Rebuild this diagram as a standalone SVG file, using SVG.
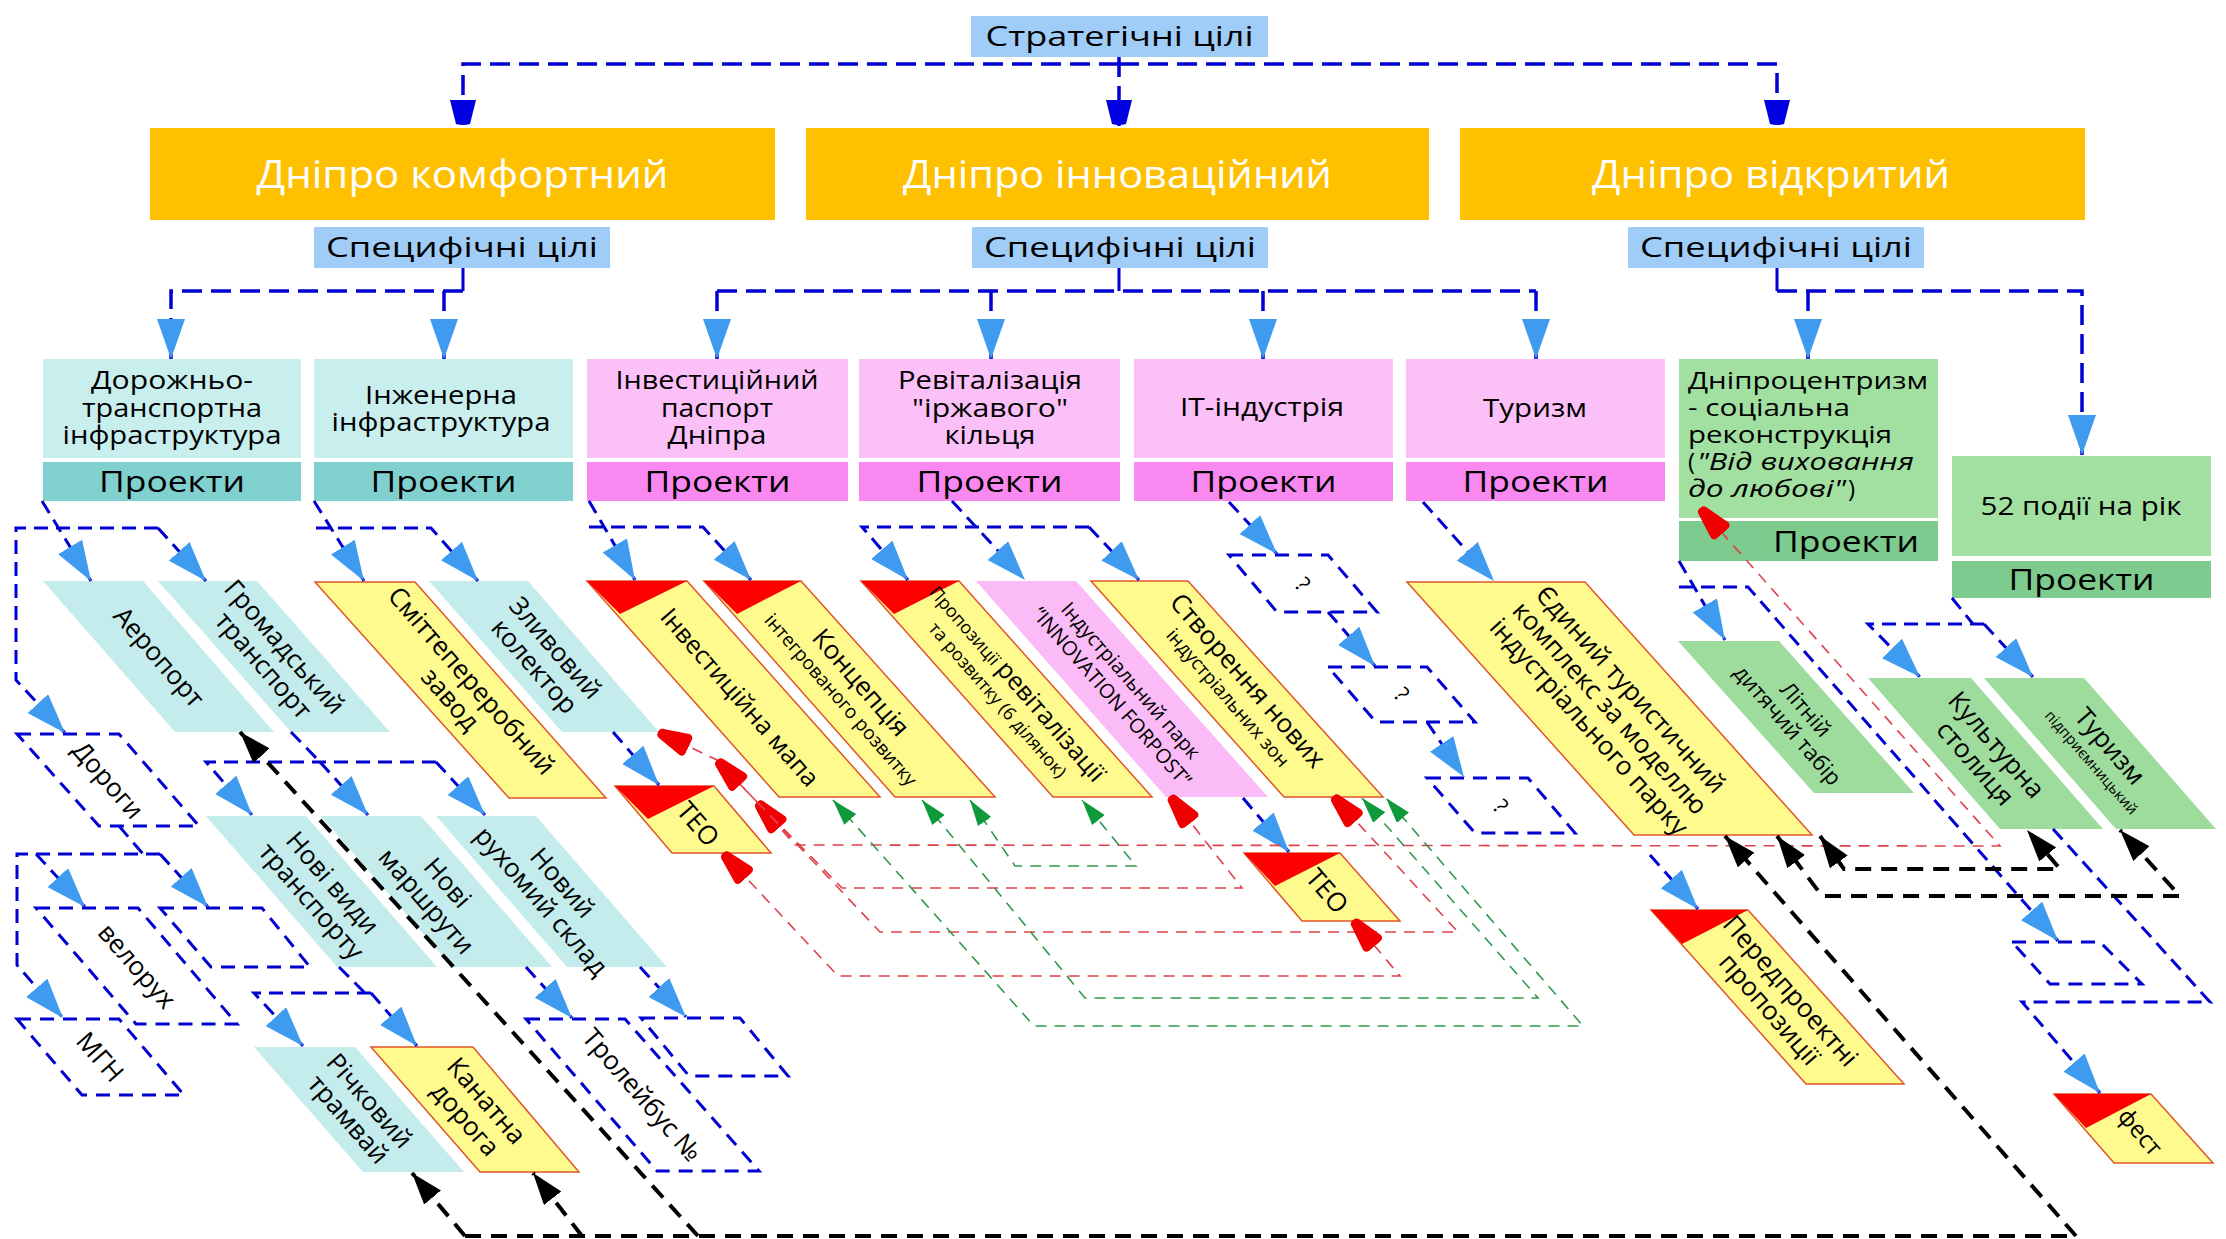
<svg xmlns="http://www.w3.org/2000/svg" width="2226" height="1239" viewBox="0 0 2226 1239">
<style>
.t{font-family:"Open Sans","Noto Sans","DejaVu Sans",sans-serif;fill:#000}
.m{text-anchor:middle}
.w{fill:#fff}
.sb{fill:#A0CDF8}
.ob{fill:#FFC000}
.cc{fill:#C8EEEE}.cp{fill:#80D0CF}
.pc{fill:#FBC0F7}.pp{fill:#F988F0}
.gc{fill:#A2E0A2}.gp{fill:#7DCB8E}
.cb{fill:#C4ECEC}
.yb{fill:#FFFA8E;stroke:#E0552A;stroke-width:1.5}
.rt{fill:#FF0000}
.pb{fill:#FBBBF6}
.gb{fill:#9EDC9E}
.db{fill:none;stroke:#0000D0;stroke-width:3;stroke-dasharray:14 9}
.bl{fill:none;stroke:#0000D0;stroke-width:3;stroke-dasharray:14 8}
.blt{fill:none;stroke:#0000D0;stroke-width:3.5;stroke-dasharray:20 9}
.bk{fill:none;stroke:#000;stroke-width:4;stroke-dasharray:16 10}
.rd{fill:none;stroke:#E0404A;stroke-width:1.6;stroke-dasharray:11 8}
.gr{fill:none;stroke:#2E9A4A;stroke-width:1.6;stroke-dasharray:11 8}
</style>
<defs>
<marker id="mLB" viewBox="0 0 40 28" refX="40" refY="14" markerWidth="40" markerHeight="28" markerUnits="userSpaceOnUse" orient="auto"><path d="M0,0 L40,14 L0,28 Z" fill="#3F9BF0"/></marker>
<marker id="mDB" viewBox="0 0 26 28" refX="26" refY="14" markerWidth="26" markerHeight="28" markerUnits="userSpaceOnUse" orient="auto"><path d="M0,1 L24,7 Q26,14 24,21 L0,27 Z" fill="#0000E0"/></marker>
<marker id="mBK" viewBox="0 0 32 22" refX="32" refY="11" markerWidth="32" markerHeight="22" markerUnits="userSpaceOnUse" orient="auto-start-reverse"><path d="M0,0 L32,11 L0,22 Z" fill="#000"/></marker>
<marker id="mGR" viewBox="0 0 26 16" refX="26" refY="8" markerWidth="26" markerHeight="16" markerUnits="userSpaceOnUse" orient="auto-start-reverse"><path d="M0,0 L26,8 L0,16 Z" fill="#0E9A3A"/></marker>
<marker id="mRK" viewBox="0 0 34 24" refX="34" refY="12" markerWidth="34" markerHeight="24" markerUnits="userSpaceOnUse" orient="auto-start-reverse"><path d="M34,12 C34,8 32,7 29,6.5 L5,0.5 C2,0 0,2 0,5 L0,19 C0,22 2,24 5,23.5 L29,17.5 C32,17 34,16 34,12 Z" fill="#F00000"/></marker>
</defs>
<rect width="2226" height="1239" fill="#fff"/>

<!-- top level -->
<g id="strat"><rect class="sb" x="971" y="16" width="297" height="41"/><text class="t m" x="1119.5" y="46" font-size="28" textLength="268" lengthAdjust="spacingAndGlyphs">Стратегічні цілі</text></g>
<g id="komf"><rect class="ob" x="150" y="128" width="625" height="92"/><text class="t m w" x="462.5" y="188" font-size="39" textLength="412" lengthAdjust="spacingAndGlyphs">Дніпро комфортний</text></g>
<g id="innov"><rect class="ob" x="806" y="128" width="623" height="92"/><text class="t m w" x="1117.5" y="188" font-size="39" textLength="429" lengthAdjust="spacingAndGlyphs">Дніпро інноваційний</text></g>
<g id="vidkr"><rect class="ob" x="1460" y="128" width="625" height="92"/><text class="t m w" x="1771" y="188" font-size="39" textLength="358" lengthAdjust="spacingAndGlyphs">Дніпро відкритий</text></g>
<g id="spec1"><rect class="sb" x="314" y="227" width="296" height="41"/><text class="t m" x="462" y="257" font-size="28" textLength="272" lengthAdjust="spacingAndGlyphs">Специфічні цілі</text></g>
<g id="spec2"><rect class="sb" x="972" y="227" width="296" height="41"/><text class="t m" x="1120" y="257" font-size="28" textLength="272" lengthAdjust="spacingAndGlyphs">Специфічні цілі</text></g>
<g id="spec3"><rect class="sb" x="1628" y="227" width="296" height="41"/><text class="t m" x="1776" y="257" font-size="28" textLength="272" lengthAdjust="spacingAndGlyphs">Специфічні цілі</text></g>

<!-- category boxes -->
<g id="cat1"><rect class="cc" x="43" y="359" width="258" height="99"/><rect class="cp" x="43" y="462" width="258" height="39"/>
<text class="t m" font-size="25"><tspan x="172" y="389" textLength="162" lengthAdjust="spacingAndGlyphs">Дорожньо-</tspan><tspan x="172" y="417" textLength="180" lengthAdjust="spacingAndGlyphs">транспортна</tspan><tspan x="172" y="444" textLength="219" lengthAdjust="spacingAndGlyphs">інфраструктура</tspan></text>
<text class="t m" x="172" y="492" font-size="30" textLength="146" lengthAdjust="spacingAndGlyphs">Проекти</text></g>
<g id="cat2"><rect class="cc" x="314" y="359" width="259" height="99"/><rect class="cp" x="314" y="462" width="259" height="39"/>
<text class="t m" font-size="25"><tspan x="441" y="404" textLength="152" lengthAdjust="spacingAndGlyphs">Інженерна</tspan><tspan x="441" y="431" textLength="219" lengthAdjust="spacingAndGlyphs">інфраструктура</tspan></text>
<text class="t m" x="443.5" y="492" font-size="30" textLength="146" lengthAdjust="spacingAndGlyphs">Проекти</text></g>
<g id="cat3"><rect class="pc" x="587" y="359" width="261" height="99"/><rect class="pp" x="587" y="462" width="261" height="39"/>
<text class="t m" font-size="25"><tspan x="717" y="389" textLength="203" lengthAdjust="spacingAndGlyphs">Інвестиційний</tspan><tspan x="717" y="417" textLength="112" lengthAdjust="spacingAndGlyphs">паспорт</tspan><tspan x="717" y="444" textLength="99" lengthAdjust="spacingAndGlyphs">Дніпра</tspan></text>
<text class="t m" x="717.5" y="492" font-size="30" textLength="146" lengthAdjust="spacingAndGlyphs">Проекти</text></g>
<g id="cat4"><rect class="pc" x="859" y="359" width="261" height="99"/><rect class="pp" x="859" y="462" width="261" height="39"/>
<text class="t m" font-size="25"><tspan x="990" y="389" textLength="184" lengthAdjust="spacingAndGlyphs">Ревіталізація</tspan><tspan x="990" y="417" textLength="156" lengthAdjust="spacingAndGlyphs">"іржавого"</tspan><tspan x="990" y="444" textLength="91" lengthAdjust="spacingAndGlyphs">кільця</tspan></text>
<text class="t m" x="989.5" y="492" font-size="30" textLength="146" lengthAdjust="spacingAndGlyphs">Проекти</text></g>
<g id="cat5"><rect class="pc" x="1134" y="359" width="259" height="99"/><rect class="pp" x="1134" y="462" width="259" height="39"/>
<text class="t m" x="1262" y="416" font-size="25" textLength="164" lengthAdjust="spacingAndGlyphs">IT-індустрія</text>
<text class="t m" x="1263.5" y="492" font-size="30" textLength="146" lengthAdjust="spacingAndGlyphs">Проекти</text></g>
<g id="cat6"><rect class="pc" x="1406" y="359" width="259" height="99"/><rect class="pp" x="1406" y="462" width="259" height="39"/>
<text class="t m" x="1535" y="417" font-size="25" textLength="104" lengthAdjust="spacingAndGlyphs">Туризм</text>
<text class="t m" x="1535.5" y="492" font-size="30" textLength="146" lengthAdjust="spacingAndGlyphs">Проекти</text></g>
<g id="cat7"><rect class="gc" x="1679" y="359" width="259" height="159"/><rect class="gp" x="1679" y="521" width="259" height="40"/>
<text class="t" font-size="24"><tspan x="1688" y="389" textLength="240" lengthAdjust="spacingAndGlyphs">Дніпроцентризм</tspan><tspan x="1688" y="416" textLength="162" lengthAdjust="spacingAndGlyphs">- соціальна</tspan><tspan x="1688" y="443" textLength="204" lengthAdjust="spacingAndGlyphs">реконструкція</tspan></text>
<text class="t" font-size="24" x="1688" y="470">(</text>
<text class="t" font-size="24" font-style="italic" x="1697" y="470" textLength="217" lengthAdjust="spacingAndGlyphs">"Від виховання</text>
<text class="t" font-size="24" font-style="italic" x="1688" y="497" textLength="158" lengthAdjust="spacingAndGlyphs">до любові"</text>
<text class="t" font-size="24" x="1848" y="497">)</text>
<text class="t m" x="1846" y="552" font-size="30" textLength="146" lengthAdjust="spacingAndGlyphs">Проекти</text></g>
<g id="cat8"><rect class="gc" x="1952" y="456" width="259" height="100"/><rect class="gp" x="1952" y="561" width="259" height="37"/>
<text class="t m" x="2081" y="515" font-size="26" textLength="201" lengthAdjust="spacingAndGlyphs">52 події на рік</text>
<text class="t m" x="2081.5" y="590" font-size="30" textLength="146" lengthAdjust="spacingAndGlyphs">Проекти</text></g>

<!-- project nodes -->
<g id="aeroport"><polygon class="cb" points="43,581 143,581 274,732 175,732"/><text class="t m" font-size="26" transform="translate(159,657) rotate(49)" y="9">Аеропорт</text></g>
<g id="gromtrans"><polygon class="cb" points="158,581 257,581 390,732 291,732"/><text class="t m" font-size="26" transform="translate(274,656) rotate(49)"><tspan x="0" y="-5">Громадський</tspan><tspan x="0" y="23">транспорт</tspan></text></g>
<g id="dorogy"><polygon class="db" points="17,734 119,734 199,826 99,826"/><text class="t m" font-size="26" transform="translate(108,780) rotate(49)" y="9">Дороги</text></g>
<g id="veloruh"><polygon class="db" points="36,908 138,908 237,1024 136,1024"/><text class="t m" font-size="26" transform="translate(137,966) rotate(49)" y="9">велорух</text></g>
<g id="empty1"><polygon class="db" points="160,908 262,908 310,967 211,967"/></g>
<g id="mgn"><polygon class="db" points="17,1019 119,1019 184,1095 82,1095"/><text class="t m" font-size="26" transform="translate(100,1057) rotate(49)" y="9">МГН</text></g>
<g id="noviv"><polygon class="cb" points="206,816 306,816 437,967 337,967"/><text class="t m" font-size="26" transform="translate(322,892) rotate(49)"><tspan x="0" y="-5">Нові види</tspan><tspan x="0" y="23">транспорту</tspan></text></g>
<g id="novim"><polygon class="cb" points="321,816 421,816 552,967 452,967"/><text class="t m" font-size="26" transform="translate(437,892) rotate(49)"><tspan x="0" y="-5">Нові</tspan><tspan x="0" y="23">маршрути</tspan></text></g>
<g id="novrs"><polygon class="cb" points="436,816 536,816 667,967 567,967"/><text class="t m" font-size="26" transform="translate(552,892) rotate(49)"><tspan x="0" y="-5">Новий</tspan><tspan x="0" y="23">рухомий склад</tspan></text></g>
<g id="richk"><polygon class="cb" points="254,1047 355,1047 464,1172 363,1172"/><text class="t m" font-size="26" transform="translate(359,1110) rotate(49)"><tspan x="0" y="-5">Річковий</tspan><tspan x="0" y="23">трамвай</tspan></text></g>
<g id="kanat"><polygon class="yb" points="371,1047 473,1047 579,1172 480,1172"/><text class="t m" font-size="26" transform="translate(476,1110) rotate(49)"><tspan x="0" y="-5">Канатна</tspan><tspan x="0" y="23">дорога</tspan></text></g>
<g id="troleib"><polygon class="db" points="526,1019 625,1019 759,1171 657,1171"/><text class="t m" font-size="26" transform="translate(642,1095) rotate(49)" y="9">Тролейбус №</text></g>
<g id="empty2"><polygon class="db" points="641,1018 740,1018 788,1076 689,1076"/></g>
<g id="smitt"><polygon class="yb" points="315,582 415,582 606,798 509,798"/><text class="t m" font-size="26" transform="translate(461,690) rotate(49)"><tspan x="0" y="-5">Сміттепереробний</tspan><tspan x="0" y="23">завод</tspan></text></g>
<g id="zlyv"><polygon class="cb" points="429,581 528,581 659,732 562,732"/><text class="t m" font-size="26" transform="translate(545,657) rotate(49)"><tspan x="0" y="-5">Зливовий</tspan><tspan x="0" y="23">колектор</tspan></text></g>
<g id="teo1"><polygon class="yb" points="615,786 714,786 771,853 672,853"/><polygon class="rt" points="615,786 714,786 648,819"/><text class="t m" font-size="26" transform="translate(698,824) rotate(49)" y="9">ТЕО</text></g>
<g id="invmap"><polygon class="yb" points="587,581 687,581 880,797 779,797"/><polygon class="rt" points="587,581 687,581 620,614"/><text class="t m" font-size="25" transform="translate(740,697) rotate(49)" y="9">Інвестиційна мапа</text></g>
<g id="konc"><polygon class="yb" points="704,581 801,581 995,797 895,797"/><polygon class="rt" points="704,581 801,581 737,614"/><text class="t m" transform="translate(851,691) rotate(49)"><tspan x="0" y="-4" font-size="26">Концепція</tspan><tspan x="0" y="20" font-size="19">інтегрованого розвитку</tspan></text></g>
<g id="propoz"><polygon class="yb" points="861,581 959,581 1152,797 1053,797"/><polygon class="rt" points="861,581 959,581 894,614"/><text class="t m" transform="translate(1008,691) rotate(49)"><tspan x="0" y="-4"><tspan font-size="18">Пропозиції </tspan><tspan font-size="25">ревіталізації</tspan></tspan><tspan x="0" y="20" font-size="18">та розвитку (6 ділянок)</tspan></text></g>
<g id="forpost"><polygon class="pb" points="976,581 1076,581 1268,797 1166,797"/><text class="t m" font-size="20" transform="translate(1121,689) rotate(49)"><tspan x="0" y="-6">Індустріальний парк</tspan><tspan x="0" y="19">“INNOVATION FORPOST”</tspan></text></g>
<g id="stvor"><polygon class="yb" points="1091,581 1188,581 1383,797 1284,797"/><text class="t m" transform="translate(1238,689) rotate(49)"><tspan x="0" y="-4" font-size="26">Створення нових</tspan><tspan x="0" y="20" font-size="19">індустріальних зон</tspan></text></g>
<g id="teo2"><polygon class="yb" points="1244,853 1340,853 1400,921 1302,921"/><polygon class="rt" points="1244,853 1340,853 1275,886"/><text class="t m" font-size="26" transform="translate(1327,891) rotate(49)" y="9">ТЕО</text></g>
<g id="q1"><polygon class="db" points="1229,555 1328,555 1377,612 1277,612"/><text class="t m" font-size="22" transform="translate(1303,584) rotate(49)" y="8">?</text></g>
<g id="q2"><polygon class="db" points="1328,667 1427,667 1475,722 1376,722"/><text class="t m" font-size="22" transform="translate(1402,694) rotate(49)" y="8">?</text></g>
<g id="q3"><polygon class="db" points="1427,778 1528,778 1575,833 1475,833"/><text class="t m" font-size="22" transform="translate(1501,806) rotate(49)" y="8">?</text></g>
<g id="yedyn"><polygon class="yb" points="1407,582 1585,582 1812,835 1634,835"/><text class="t m" font-size="26" transform="translate(1610,708) rotate(48)"><tspan x="0" y="-19">Єдиний туристичний</tspan><tspan x="0" y="9">комплекс за моделлю</tspan><tspan x="0" y="37">індустріального парку</tspan></text></g>
<g id="peredpr"><polygon class="yb" points="1651,910 1748,910 1904,1084 1806,1084"/><polygon class="rt" points="1651,910 1748,910 1682,944"/><text class="t m" font-size="26" transform="translate(1780,1000) rotate(49)"><tspan x="0" y="-5">Передпроектні</tspan><tspan x="0" y="23">пропозиції</tspan></text></g>
<g id="litniy"><polygon class="gb" points="1678,641 1779,641 1914,793 1814,793"/><text class="t m" font-size="22" transform="translate(1797,717) rotate(49)"><tspan x="0" y="-4">Літній</tspan><tspan x="0" y="20">дитячий табір</tspan></text></g>
<g id="kultur"><polygon class="gb" points="1868,678 1971,678 2103,829 2000,829"/><text class="t m" font-size="26" transform="translate(1986,754) rotate(49)"><tspan x="0" y="-5">Культурна</tspan><tspan x="0" y="23">столиця</tspan></text></g>
<g id="turpidpr"><polygon class="gb" points="1984,678 2084,678 2216,829 2116,829"/><text class="t m" transform="translate(2101,754) rotate(49)"><tspan x="0" y="-3" font-size="26">Туризм</tspan><tspan x="0" y="18" font-size="15">підприємницький</tspan></text></g>
<g id="empty3"><polygon class="db" points="2012,942 2100,942 2142,984 2050,984"/></g>
<g id="fest"><polygon class="yb" points="2054,1094 2151,1094 2213,1163 2114,1163"/><polygon class="rt" points="2054,1094 2151,1094 2086,1128"/><text class="t m" font-size="24" transform="translate(2140,1132) rotate(49)" y="8">фест</text></g>

<!-- connectors -->
<g id="connectors">
<path class="blt" d="M1119,64 L463,64 L463,126" marker-end="url(#mDB)"/>
<path class="blt" d="M1119,64 L1777,64 L1777,126" marker-end="url(#mDB)"/>
<path class="blt" d="M1119,57 L1119,126" marker-end="url(#mDB)"/>
<path d="M463,268 L463,291 M1119,268 L1119,291 M1777,268 L1777,291" stroke="#0000D0" stroke-width="3" fill="none"/>
<path class="blt" d="M463,291 L171,291 L171,359" marker-end="url(#mLB)"/>
<path class="blt" d="M444,291 L444,359" marker-end="url(#mLB)"/>
<path class="blt" d="M717,291 L1536,291"/>
<path class="blt" d="M717,291 L717,359" marker-end="url(#mLB)"/>
<path class="blt" d="M991,291 L991,359" marker-end="url(#mLB)"/>
<path class="blt" d="M1263,291 L1263,359" marker-end="url(#mLB)"/>
<path class="blt" d="M1536,291 L1536,359" marker-end="url(#mLB)"/>
<path class="blt" d="M1777,291 L2082,291 L2082,455" marker-end="url(#mLB)"/>
<path class="blt" d="M1808,291 L1808,359" marker-end="url(#mLB)"/>

<path class="bl" d="M42,501 L91,581" marker-end="url(#mLB)"/>
<path class="bl" d="M158,528 L16,528 L16,680 L65,733" marker-end="url(#mLB)"/>
<path class="bl" d="M158,528 L206,581" marker-end="url(#mLB)"/>
<path class="bl" d="M119,826 L143,854"/>
<path class="bl" d="M160,854 L17,854 L17,965 L63,1018" marker-end="url(#mLB)"/>
<path class="bl" d="M160,854 L208,907" marker-end="url(#mLB)"/>
<path class="bl" d="M36,854 L85,907" marker-end="url(#mLB)"/>
<path class="bl" d="M291,732 L320,762"/>
<path class="bl" d="M436,762 L206,762 L252,815" marker-end="url(#mLB)"/>
<path class="bl" d="M320,762 L368,815" marker-end="url(#mLB)"/>
<path class="bl" d="M436,762 L485,815" marker-end="url(#mLB)"/>
<path class="bl" d="M339,967 L365,993"/>
<path class="bl" d="M371,993 L254,993 L303,1046" marker-end="url(#mLB)"/>
<path class="bl" d="M371,993 L417,1046" marker-end="url(#mLB)"/>
<path class="bl" d="M526,967 L572,1018" marker-end="url(#mLB)"/>
<path class="bl" d="M640,967 L686,1017" marker-end="url(#mLB)"/>
<path class="bl" d="M314,501 L364,581" marker-end="url(#mLB)"/>
<path class="bl" d="M316,528 L431,528 L478,581" marker-end="url(#mLB)"/>
<path class="bl" d="M613,732 L659,785" marker-end="url(#mLB)"/>
<path class="bl" d="M589,501 L635,580" marker-end="url(#mLB)"/>
<path class="bl" d="M589,527 L703,527 L751,580" marker-end="url(#mLB)"/>
<path class="bl" d="M952,501 L1025,580" marker-end="url(#mLB)"/>
<path class="bl" d="M1089,527 L862,527 L908,580" marker-end="url(#mLB)"/>
<path class="bl" d="M1089,527 L1139,580" marker-end="url(#mLB)"/>
<path class="bl" d="M1229,502 L1277,554" marker-end="url(#mLB)"/>
<path class="bl" d="M1328,612 L1375,666" marker-end="url(#mLB)"/>
<path class="bl" d="M1427,722 L1464,777" marker-end="url(#mLB)"/>
<path class="bl" d="M1243,798 L1289,852" marker-end="url(#mLB)"/>
<path class="bl" d="M1423,502 L1494,581" marker-end="url(#mLB)"/>
<path class="bl" d="M1650,855 L1698,909" marker-end="url(#mLB)"/>
<path class="bl" d="M1679,561 L1725,640" marker-end="url(#mLB)"/>
<path class="bl" d="M1679,587 L1748,587 L2058,941" marker-end="url(#mLB)"/>
<path class="bl" d="M1952,598 L1973,624"/>
<path class="bl" d="M1984,624 L1868,624 L1920,677" marker-end="url(#mLB)"/>
<path class="bl" d="M1984,624 L2033,677" marker-end="url(#mLB)"/>
<path class="bl" d="M2053,829 L2210,1002 L2022,1002 L2100,1093" marker-end="url(#mLB)"/>

<path class="rd" d="M658,732 L717,760 L757,802" marker-start="url(#mRK)"/>
<path class="rd" d="M717,760 L757,802" marker-start="url(#mRK)"/>
<path class="rd" d="M757,802 L795,845 L2000,846 L1700,508" marker-start="url(#mRK)" marker-end="url(#mRK)"/>
<path class="rd" d="M757,802 L842,888 L1242,888 L1170,796" marker-end="url(#mRK)"/>
<path class="rd" d="M757,802 L880,932 L1458,932 L1333,796" marker-end="url(#mRK)"/>
<path class="rd" d="M723,853 L838,976 L1400,976 L1353,920" marker-start="url(#mRK)" marker-end="url(#mRK)"/>

<path class="gr" d="M970,800 L1015,866 L1136,866 L1082,800" marker-start="url(#mGR)" marker-end="url(#mGR)"/>
<path class="gr" d="M922,800 L1085,998 L1538,998 L1362,798" marker-start="url(#mGR)" marker-end="url(#mGR)"/>
<path class="gr" d="M833,800 L1034,1026 L1583,1026 L1386,798" marker-start="url(#mGR)" marker-end="url(#mGR)"/>

<path class="bk" d="M698,1236 L240,732" marker-end="url(#mBK)"/>
<path class="bk" d="M465,1236 L2076,1236"/>
<path class="bk" d="M465,1236 L412,1173" marker-end="url(#mBK)"/>
<path class="bk" d="M582,1236 L533,1173" marker-end="url(#mBK)"/>
<path class="bk" d="M2076,1236 L1725,836" marker-end="url(#mBK)"/>
<path class="bk" d="M1777,836 L1822,896 L2180,896 L2120,830" marker-start="url(#mBK)" marker-end="url(#mBK)"/>
<path class="bk" d="M1820,836 L1844,869 L2060,869 L2027,830" marker-start="url(#mBK)" marker-end="url(#mBK)"/>
</g>
</svg>
